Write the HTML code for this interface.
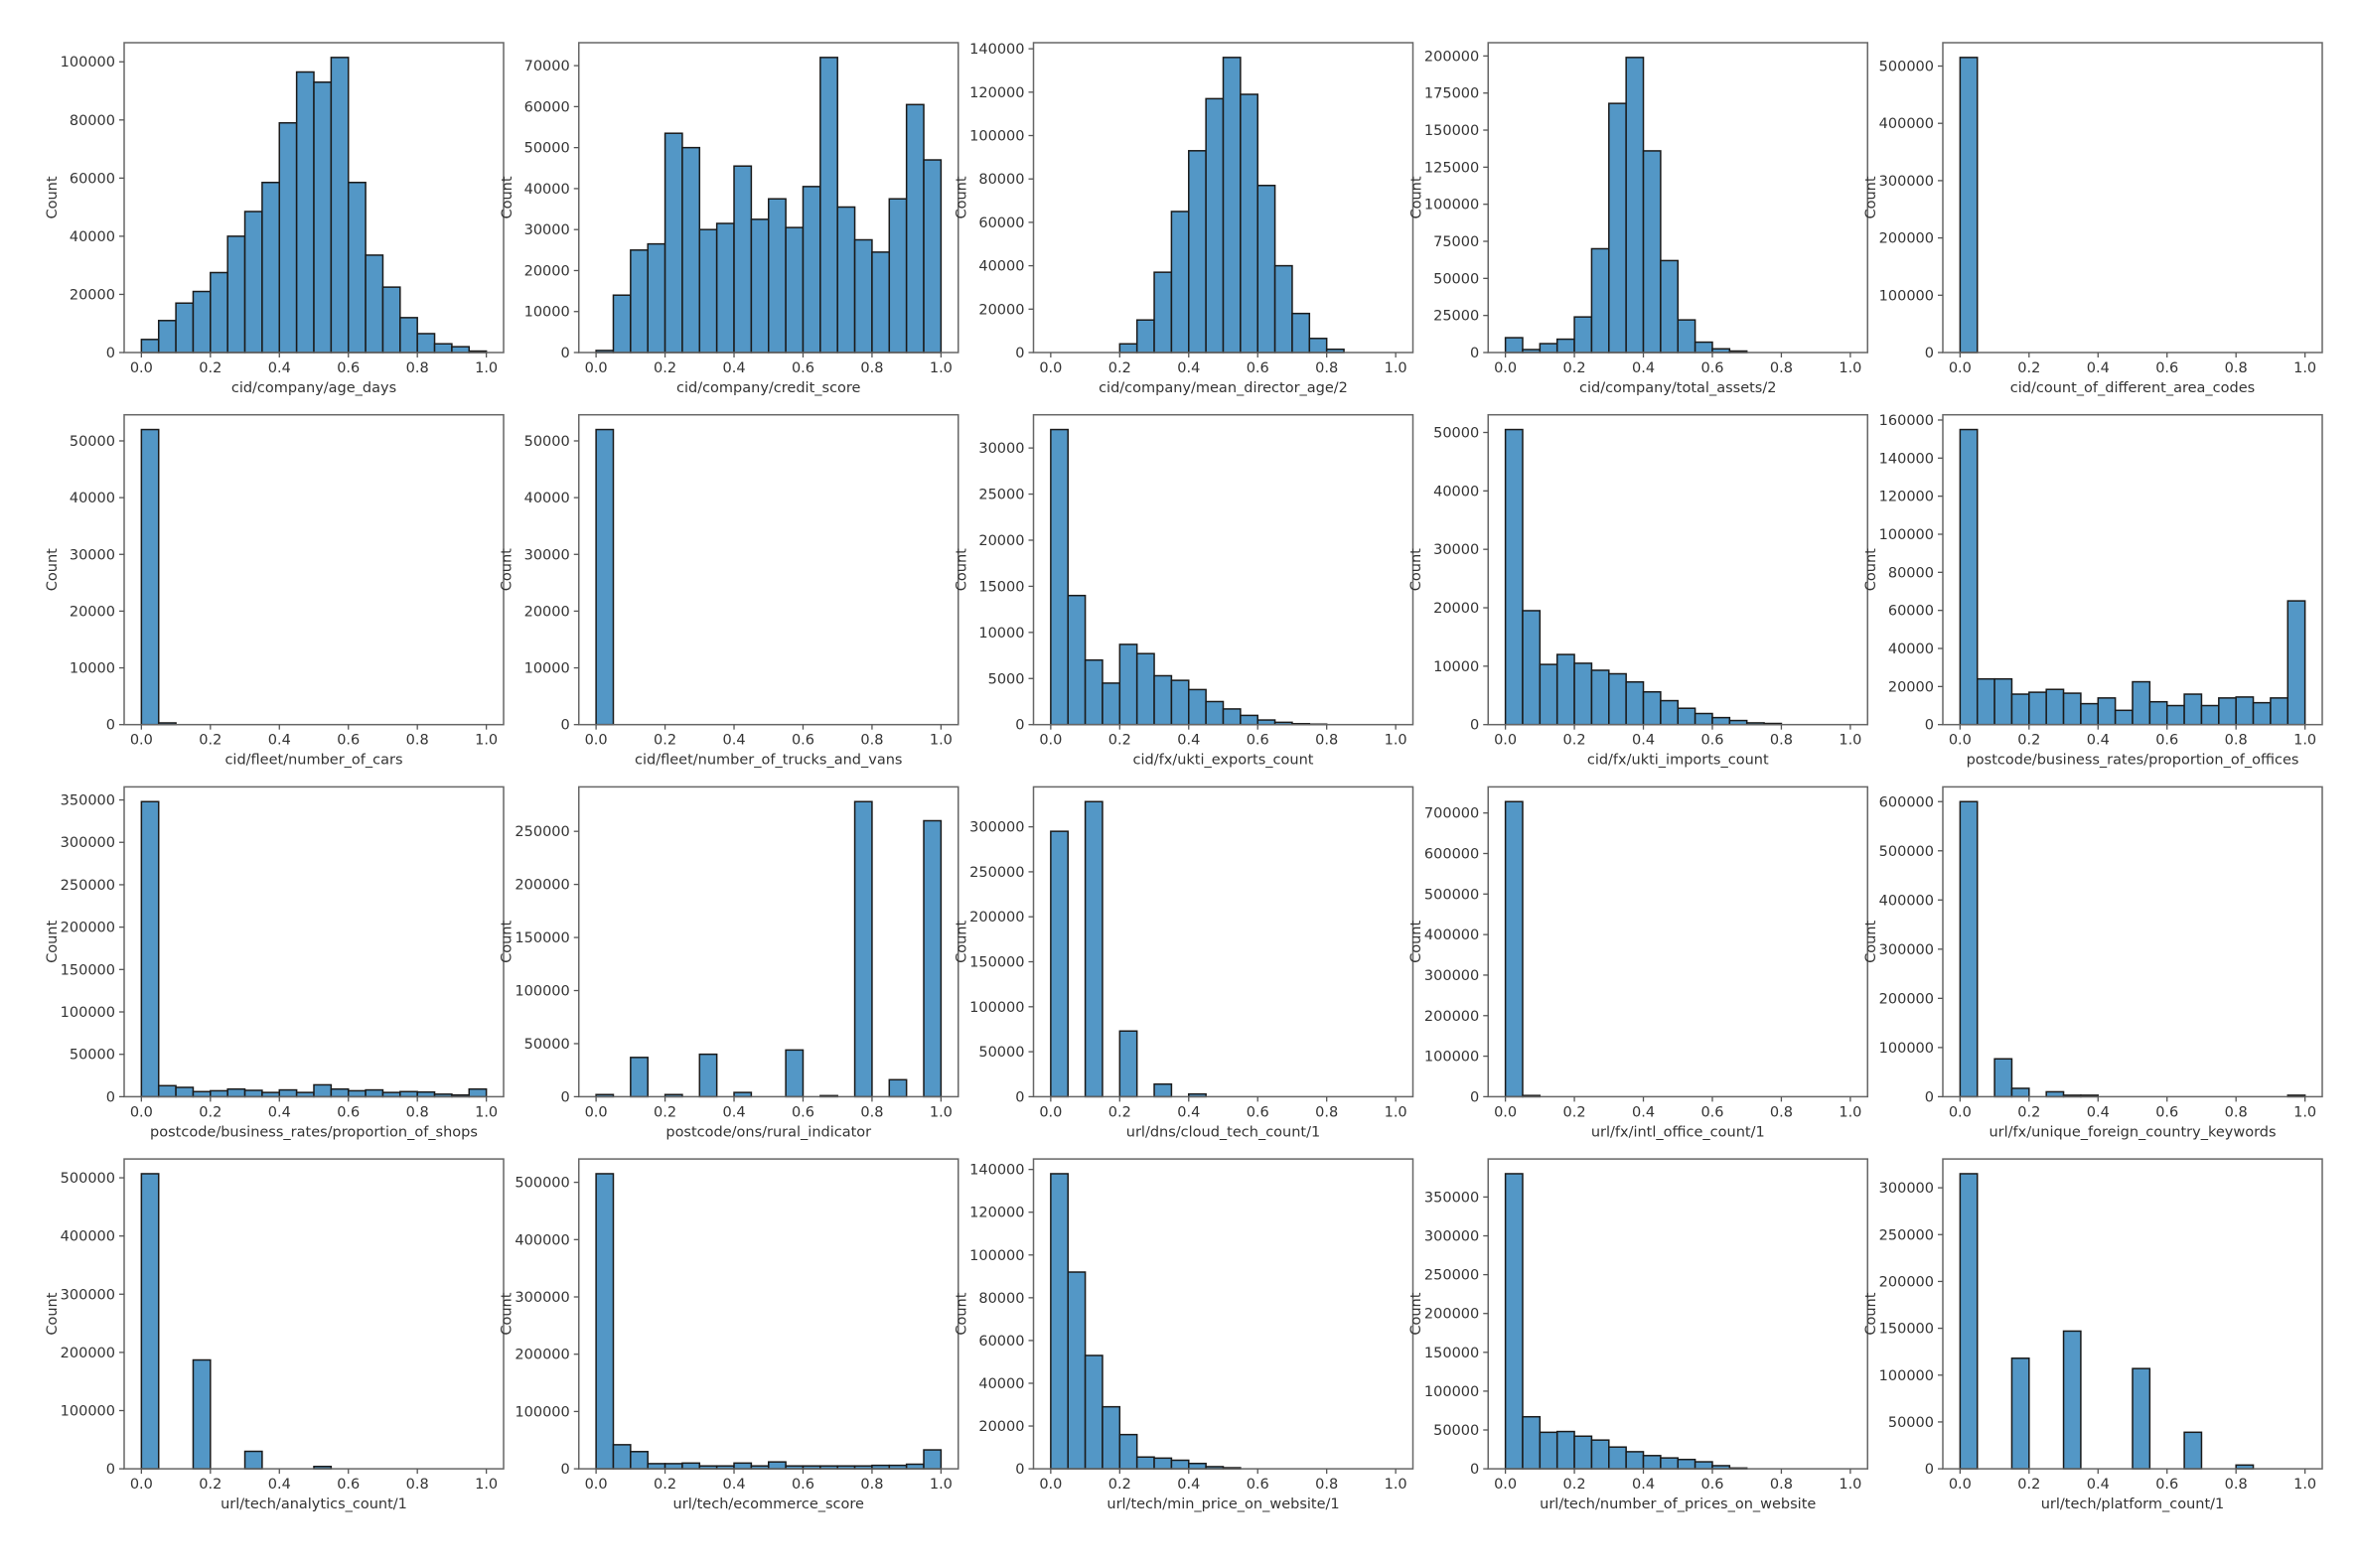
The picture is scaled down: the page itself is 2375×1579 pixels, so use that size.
<!DOCTYPE html>
<html><head><meta charset="utf-8"><style>
html,body{margin:0;padding:0;background:#fff;width:2375px;height:1579px;overflow:hidden}
svg text{font-family:"DejaVu Sans","Liberation Sans",sans-serif;fill:#333}
</style></head><body>
<svg id="s" width="2375" height="1579" xmlns="http://www.w3.org/2000/svg"></svg>
<script>
const P=[
["cid/company/age_days",20000,[4500,11000,17000,21000,27500,40000,48500,58500,79000,96500,93000,101500,58500,33500,22500,12000,6500,3000,2000,500]],
["cid/company/credit_score",10000,[500,14000,25000,26500,53500,50000,30000,31500,45500,32500,37500,30500,40500,72000,35500,27500,24500,37500,60500,47000]],
["cid/company/mean_director_age/2",20000,[0,0,0,0,4000,15000,37000,65000,93000,117000,136000,119000,77000,40000,18000,6500,1500,0,0,0]],
["cid/company/total_assets/2",25000,[10000,2000,6000,9000,24000,70000,168000,199000,136000,62000,22000,7000,2500,1000,0,0,0,0,0,0]],
["cid/count_of_different_area_codes",100000,[515000,0,0,0,0,0,0,0,0,0,0,0,0,0,0,0,0,0,0,0]],
["cid/fleet/number_of_cars",10000,[52000,300,0,0,0,0,0,0,0,0,0,0,0,0,0,0,0,0,0,0]],
["cid/fleet/number_of_trucks_and_vans",10000,[52000,0,0,0,0,0,0,0,0,0,0,0,0,0,0,0,0,0,0,0]],
["cid/fx/ukti_exports_count",5000,[32000,14000,7000,4500,8700,7700,5300,4800,3800,2500,1700,1000,500,250,100,50,0,0,0,0]],
["cid/fx/ukti_imports_count",10000,[50500,19500,10300,12000,10500,9300,8700,7300,5600,4100,2800,1900,1200,700,300,200,0,0,0,0]],
["postcode/business_rates/proportion_of_offices",20000,[155000,24000,24000,16000,17000,18500,16500,11000,14000,7500,22500,12000,10000,16000,10000,14000,14500,11500,14000,65000]],
["postcode/business_rates/proportion_of_shops",50000,[348000,13000,11000,6000,7000,9000,7500,5000,8000,5000,14000,9000,7000,8000,5000,6000,5500,3000,2000,9000]],
["postcode/ons/rural_indicator",50000,[2000,0,37000,0,2000,0,40000,0,4000,0,0,44000,0,1000,0,278000,0,16000,0,260000]],
["url/dns/cloud_tech_count/1",50000,[295000,0,328000,0,73000,0,14000,0,3000,0,0,0,0,0,0,0,0,0,0,0]],
["url/fx/intl_office_count/1",100000,[728000,3000,0,0,0,0,0,0,0,0,0,0,0,0,0,0,0,0,0,0]],
["url/fx/unique_foreign_country_keywords",100000,[600000,0,77000,17000,0,10000,3000,3000,0,0,0,0,0,0,0,0,0,0,0,3000]],
["url/tech/analytics_count/1",100000,[507000,0,0,187000,0,0,30000,0,0,0,4000,0,0,0,0,0,0,0,0,0]],
["url/tech/ecommerce_score",100000,[515000,42000,30000,9000,9000,10000,5000,5000,10000,5000,12000,5000,5000,5000,5000,5000,6000,6000,8000,33000]],
["url/tech/min_price_on_website/1",20000,[138000,92000,53000,29000,16000,5500,5000,4000,2500,1000,500,0,0,0,0,0,0,0,0,0]],
["url/tech/number_of_prices_on_website",50000,[380000,67000,47000,48000,42000,37000,28000,22000,17000,14000,12000,9000,4000,1000,0,0,0,0,0,0]],
["url/tech/platform_count/1",50000,[315000,0,0,118000,0,0,147000,0,0,0,107000,0,0,147000*0+39000,0,0,4000,0,0,0]]
];
// fix platform: 39000 at index 13
let o='';
const W=382,H=312;
P.forEach((p,i)=>{
 const r=Math.floor(i/5),c=i%5;
 const L=125+c*457.75,T=43+r*374.7,B=T+H;
 const d=p[2],mx=Math.max(...d)*1.05;
 const X=v=>L+W*(v+0.05)/1.1, Y=v=>B-H*v/mx;
 d.forEach((v,k)=>{ if(v<=0)return;
  const x0=X(k*0.05),x1=X((k+1)*0.05),y=Y(v);
  o+=`<rect x="${x0}" y="${y}" width="${x1-x0}" height="${B-y}" fill="#5397c6" stroke="#1a1a1a" stroke-width="1.5"/>`;});
 o+=`<rect x="${L}" y="${T}" width="${W}" height="${H}" fill="none" stroke="#666" stroke-width="1.5"/>`;
 for(let t=0;t<=1.0001;t+=0.2){const x=X(t);
  o+=`<line x1="${x}" y1="${B}" x2="${x}" y2="${B+5}" stroke="#555" stroke-width="1.3"/><text x="${x}" y="${B+20}" font-size="14.5" text-anchor="middle">${t.toFixed(1)}</text>`;}
 for(let t=0;t<=mx;t+=p[1]){const y=Y(t);
  o+=`<line x1="${L-5}" y1="${y}" x2="${L}" y2="${y}" stroke="#555" stroke-width="1.3"/><text x="${L-9}" y="${y+5}" font-size="14.5" text-anchor="end">${t}</text>`;}
 o+=`<text x="${L+W/2}" y="${B+40}" font-size="14.5" text-anchor="middle">${p[0]}</text>`;
 const cx=L-73,cy=T+H/2;
 o+=`<text x="${cx}" y="${cy}" font-size="14.5" text-anchor="middle" transform="rotate(-90 ${cx} ${cy})" dy="5">Count</text>`;
});
document.getElementById('s').innerHTML=o;
</script>
</body></html>
